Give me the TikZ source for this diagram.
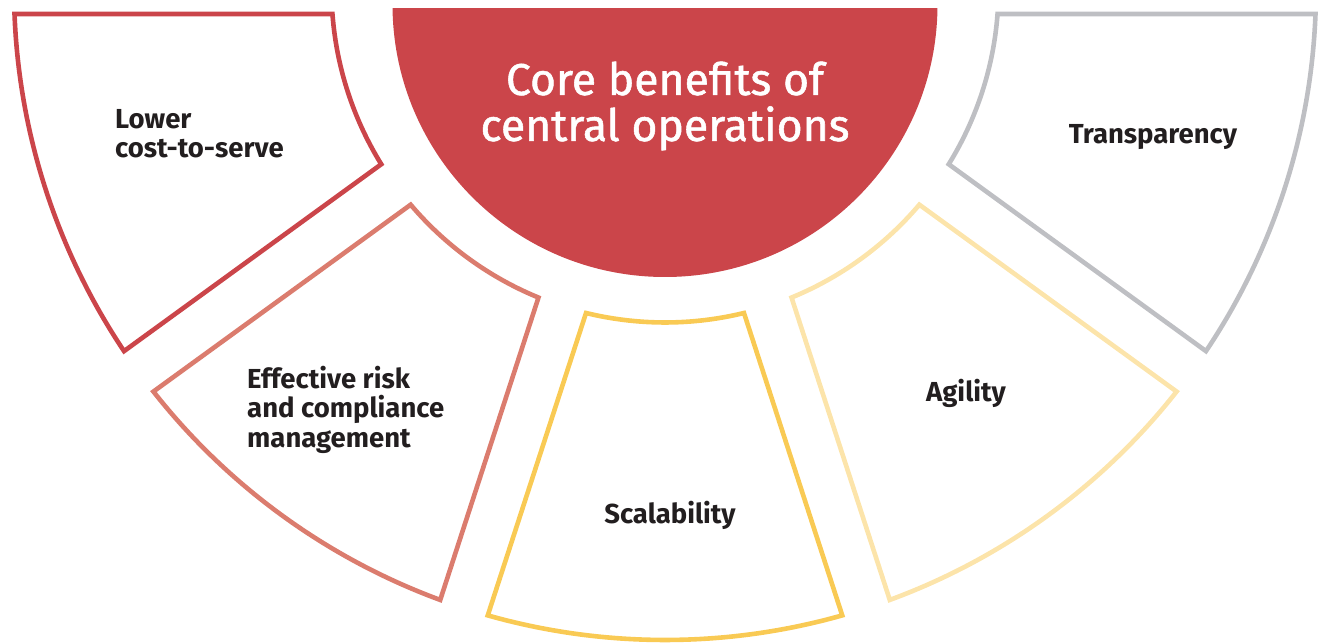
\documentclass[tikz,border=0pt]{standalone}
\usepackage{fontspec}
\setmainfont{Fira Sans}
\newfontfamily\hubfont{Fira Sans}[FakeBold=1.2]
\definecolor{hubred}{HTML}{CB454A}
\definecolor{salmon}{HTML}{DB7C6E}
\definecolor{gold}{HTML}{F9CA54}
\definecolor{paleyellow}{HTML}{FCE4AA}
\definecolor{silver}{HTML}{BEBFC3}
\definecolor{ink}{HTML}{221E1F}
\begin{document}
\begin{tikzpicture}[x=1pt,y=1pt,
  petal/.style={line width=4.6pt, line join=miter},
  petallabel/.style={font=\bfseries\fontsize{27.5}{29.5}\selectfont, text=ink, inner sep=0pt},
  hubtitle/.style={font=\hubfont\fontsize{44.5}{46}\selectfont, text=white, align=center, inner sep=0pt}]
\useasboundingbox (0,0) rectangle (1320,643);

% ring geometry: common centre, inner/outer radius, half width of the gaps
\def\Rin{333.5}
\def\Rout{651}
\pgfmathsetmacro{\dI}{asin(25/\Rin)}
\pgfmathsetmacro{\dO}{asin(25/\Rout)}

% one ring segment between two boundary angles, gaps kept parallel
\newcommand{\ringsegment}[3]{%
  \pgfmathsetmacro{\aIn}{#1+\dI}\pgfmathsetmacro{\aOut}{#1+\dO}%
  \pgfmathsetmacro{\bIn}{#2-\dI}\pgfmathsetmacro{\bOut}{#2-\dO}%
  \draw[petal,#3] (\aIn:\Rin) -- (\aOut:\Rout)
    arc[start angle=\aOut, end angle=\bOut, radius=\Rout]
    -- (\bIn:\Rin)
    arc[start angle=\bIn, end angle=\aIn, radius=\Rin] -- cycle;}

\begin{scope}[shift={(665,654)}]
  \ringsegment{180}{216}{hubred}
  \ringsegment{216}{252}{salmon}
  \ringsegment{252}{288}{gold}
  \ringsegment{288}{324}{paleyellow}
  \ringsegment{324}{360}{silver}
\end{scope}

% central half disc
\begin{scope}
  \clip (0,0) rectangle (1320,634);
  \fill[hubred] (665,638.5) circle[radius=272.5];
\end{scope}
\node[hubtitle] (hub) at (665,537) {Core benefits of\\central operations};

% segment labels
\node[petallabel, align=left, anchor=north west] (cost) at (115,534) {Lower\\cost-to-serve};
\node[petallabel, align=left, anchor=north west] (risk) at (247,277.5) {Effective risk\\and compliance\\management};
\node[petallabel, anchor=base] (scale) at (670,120) {Scalability};
\node[petallabel, anchor=base] (agile) at (966,241) {Agility};
\node[petallabel, anchor=base] (transp) at (1153,499) {Transparency};
\end{tikzpicture}
\end{document}
